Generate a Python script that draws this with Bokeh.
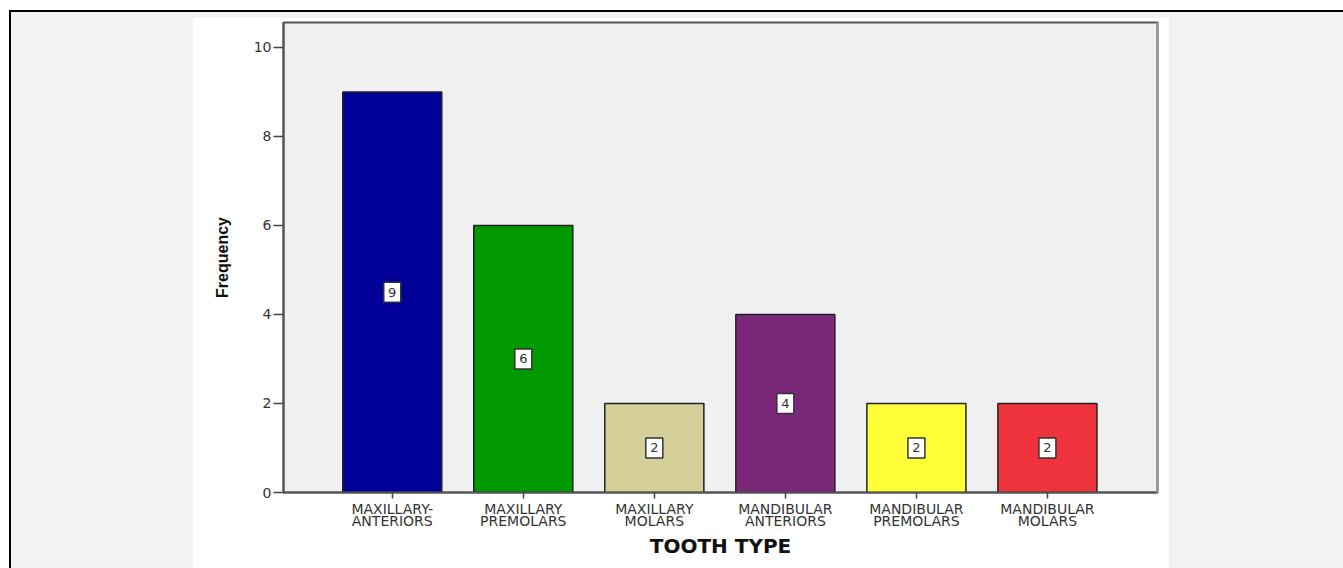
from bokeh.plotting import figure
from bokeh.models import Range1d, FixedTicker, ColumnDataSource, LinearAxis
from bokeh.layouts import column
from bokeh.core.properties import value
from bokeh.embed import file_html
from bokeh.resources import INLINE

# Tooth type frequencies
categories = ["MAXILLARY-\nANTERIORS", "MAXILLARY\nPREMOLARS", "MAXILLARY\nMOLARS",
              "MANDIBULAR\nANTERIORS", "MANDIBULAR\nPREMOLARS", "MANDIBULAR\nMOLARS"]
frequency = [9, 6, 2, 4, 2, 2]
bar_colors = ["#000099", "#009900", "#D5D09A", "#7B287B", "#FFFF38", "#EF333D"]
y_ticks = [0, 2, 4, 6, 8, 10]

pos = list(range(len(categories)))
src = ColumnDataSource(dict(
    x=pos,
    top=frequency,
    mid=[v / 2 for v in frequency],
    label=[str(v) for v in frequency],
    color=bar_colors,
))

p = figure(width=977, height=551, output_backend="svg", toolbar_location=None,
           x_range=Range1d(-0.83, 5.84), y_range=Range1d(0, 10.56),
           min_border_left=91, min_border_right=12, min_border_top=5, min_border_bottom=76)

p.background_fill_color = "#F0F0F0"
p.border_fill_color = "#FFFFFF"
p.outline_line_color = "#555555"
p.outline_line_width = 2
p.xgrid.visible = False
p.ygrid.visible = False

p.vbar(x="x", top="top", bottom=0, width=0.756, fill_color="color",
       line_color="#222222", line_width=1.5, source=src)

# value boxes in the middle of each bar
p.rect(x="x", y="mid", width=17, height=20, width_units="screen", height_units="screen",
       fill_color="#FFFFFF", line_color="#333333", line_width=1.5, source=src)
p.text(x="x", y="mid", text="label", text_align="center", text_baseline="middle",
       text_font=value("DejaVu Sans"), text_font_size="13px", text_color="#333333",
       source=src)

# y axis
ya = p.yaxis[0]
ya.ticker = FixedTicker(ticks=y_ticks)
ya.minor_tick_line_color = None
ya.major_tick_out = 10
ya.major_tick_in = 0
ya.major_tick_line_color = "#444444"
ya.major_tick_line_width = 1.5
ya.axis_line_color = "#555555"
ya.axis_line_width = 2
ya.major_label_text_font = "DejaVu Sans"
ya.major_label_text_font_size = "14px"
ya.major_label_text_color = "#333333"
ya.major_label_standoff = 2
ya.axis_label = "Frequency"
ya.axis_label_text_font = "Liberation Sans"
ya.axis_label_text_font_style = "bold"
ya.axis_label_text_font_size = "16px"
ya.axis_label_text_color = "#111111"
ya.axis_label_standoff = 20

# soft shadow along the right edge of the frame
shadow = LinearAxis(ticker=FixedTicker(ticks=[]), axis_line_color="#9A9A9A",
                    axis_line_width=3, major_label_text_font_size="0px",
                    major_tick_line_color=None, minor_tick_line_color=None)
p.add_layout(shadow, "right")

# x axis
xa = p.xaxis[0]
xa.ticker = FixedTicker(ticks=pos)
xa.major_label_overrides = {i: c for i, c in zip(pos, categories)}
xa.minor_tick_line_color = None
xa.major_tick_out = 6
xa.major_tick_in = 0
xa.major_tick_line_color = "#444444"
xa.major_tick_line_width = 1.5
xa.axis_line_color = "#555555"
xa.axis_line_width = 2
xa.major_label_text_font = "DejaVu Sans"
xa.major_label_text_font_size = "14px"
xa.major_label_text_color = "#333333"
xa.major_label_text_line_height = 0.75
xa.major_label_standoff = 2
xa.axis_label = "TOOTH TYPE"
xa.axis_label_text_font = "DejaVu Sans"
xa.axis_label_text_font_style = "bold"
xa.axis_label_text_font_size = "20px"
xa.axis_label_text_color = "#111111"
xa.axis_label_standoff = 2

# grey page around the chart panel
panel = column(p, styles={
    "background-color": "#F2F2F2",
    "padding-left": "181px",
    "padding-top": "5px",
    "padding-right": "174px",
})

# black rule along the top and left edges of the page
page = column(panel, styles={
    "background-color": "#000000",
    "margin-left": "9px",
    "margin-top": "10px",
    "padding-left": "2px",
    "padding-top": "2px",
})

open("out.html", "w").write(file_html(page, INLINE))
